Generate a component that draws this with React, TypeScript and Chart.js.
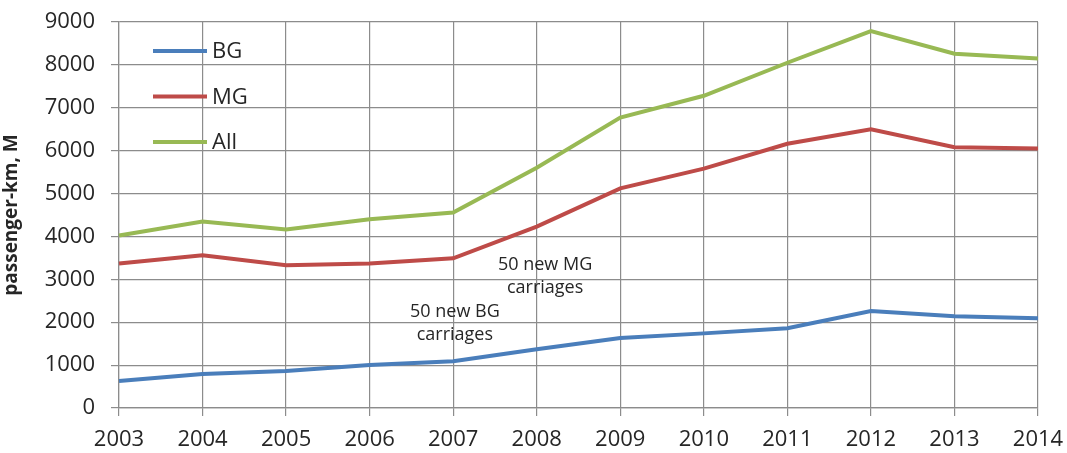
import React, { useEffect, useRef } from "react";
import Chart from "chart.js/auto";

const years = ["2003","2004","2005","2006","2007","2008","2009","2010","2011","2012","2013","2014"];
const bgValues = [630, 790, 860, 1000, 1090, 1370, 1630, 1740, 1860, 2260, 2140, 2090];
const mgValues = [3370, 3560, 3330, 3370, 3490, 4230, 5120, 5580, 6160, 6500, 6080, 6050];
const allValues = [4020, 4350, 4160, 4400, 4560, 5600, 6770, 7280, 8050, 8790, 8260, 8150];
const seriesNames = ["BG", "MG", "All"];
const seriesColors = ["#4a7ebb", "#be4b48", "#98b954"];
const notes = [
  { lines: ["50 new MG", "carriages"], x: 5.1, y: 3070 },
  { lines: ["50 new BG", "carriages"], x: 4.02, y: 1980 },
];

const FONT = "'Open Sans', 'DejaVu Sans', sans-serif";
const TEXT = "#262626";
const GRID = "#8c8c8c";

const overlayPlugin = {
  id: "overlay",
  afterDatasetsDraw(chart: any) {
    const { ctx, chartArea, scales } = chart;
    ctx.save();
    seriesNames.forEach((name, i) => {
      const y = chartArea.top + 29 + i * 45.5;
      ctx.strokeStyle = seriesColors[i];
      ctx.lineWidth = 4;
      ctx.beginPath();
      ctx.moveTo(chartArea.left + 34, y);
      ctx.lineTo(chartArea.left + 88, y);
      ctx.stroke();
      ctx.fillStyle = TEXT;
      ctx.font = `22px ${FONT}`;
      ctx.textAlign = "left";
      ctx.textBaseline = "middle";
      ctx.fillText(name, chartArea.left + 93, y + 1);
    });
    ctx.font = `18px ${FONT}`;
    ctx.textAlign = "center";
    ctx.textBaseline = "middle";
    ctx.fillStyle = TEXT;
    notes.forEach((n) => {
      const cx = scales.x.getPixelForValue(n.x);
      const cy = scales.y.getPixelForValue(n.y);
      ctx.fillText(n.lines[0], cx, cy - 11.5);
      ctx.fillText(n.lines[1], cx, cy + 11.5);
    });
    ctx.restore();
  },
};

export default function App() {
  const ref = useRef<HTMLCanvasElement>(null);
  useEffect(() => {
    document.body.style.margin = "0";
    const chart = new Chart(ref.current!, {
      type: "line",
      data: {
        labels: years,
        datasets: [bgValues, mgValues, allValues].map((d, i) => ({
          label: seriesNames[i],
          data: d,
          borderColor: seriesColors[i],
          backgroundColor: seriesColors[i],
          borderWidth: 4,
          pointRadius: 0,
          tension: 0,
        })),
      },
      options: {
        animation: false,
        responsive: false,
        maintainAspectRatio: false,
        layout: { padding: { top: 22, right: 29, left: 0, bottom: 0 } },
        plugins: { legend: { display: false }, tooltip: { enabled: false } },
        scales: {
          x: {
            offset: false,
            grid: { color: GRID, lineWidth: 1.2, tickLength: 8, offset: false },
            border: { color: GRID, width: 1.2 },
            ticks: { color: TEXT, font: { family: FONT, size: 22 }, maxRotation: 0, autoSkip: false, padding: 11 },
            afterFit: (s: any) => { s.height = 45; s.paddingLeft = 0; s.paddingRight = 0; },
          },
          y: {
            min: 0,
            max: 9000,
            grid: { color: GRID, lineWidth: 1.2, tickLength: 8 },
            border: { color: GRID, width: 1.2 },
            ticks: { stepSize: 1000, color: TEXT, font: { family: FONT, size: 22 }, padding: 16, callback: (v: any) => String(v) },
            title: { display: true, text: "passenger-km, M", color: TEXT, font: { family: FONT, size: 19, weight: "bold" }, padding: { top: 0, bottom: 4 } },
            afterFit: (s: any) => { s.width = 119; s.paddingTop = 0; s.paddingBottom = 0; },
          },
        },
      },
      plugins: [overlayPlugin],
    });
    return () => chart.destroy();
  }, []);
  return (
    <div style={{ width: 1067, height: 453, background: "#fff" }}>
      <canvas ref={ref} width={1067} height={453} style={{ display: "block" }} />
    </div>
  );
}
